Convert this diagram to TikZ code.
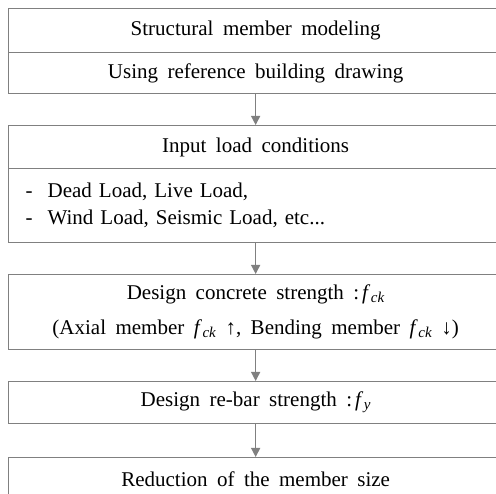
\documentclass[tikz,border=0pt]{standalone}
\usepackage{fontspec}
\setmainfont{Liberation Serif}[WordSpace=1.8]
\usetikzlibrary{arrows.meta}
\definecolor{linegray}{RGB}{128,128,128}
\tikzset{
  box/.style={draw=linegray, line width=1.3pt, minimum width=494pt, anchor=north west,
    inner sep=0pt, font=\fontsize{21}{25}\selectfont, text=black},
  flow/.style={draw=linegray, line width=1.3pt, -{Triangle[width=9pt,length=9pt]}}
}
\newcommand{\fck}{\textit{f}\kern0.5pt\raisebox{-0.3ex}{\fontsize{15}{15}\selectfont\textit{ck}}}
\newcommand{\fy}{\textit{f}\kern0.5pt\raisebox{-0.3ex}{\fontsize{15}{15}\selectfont\textit{y}}}
\begin{document}
\begin{tikzpicture}[x=1pt,y=1pt]
\useasboundingbox (0,0) rectangle (496,-494);
\clip (0,0) rectangle (496,-494);
\node[box, minimum height=44pt] (b1) at (8,-8) {Structural member modeling};
\node[box, minimum height=41pt] (b2) at (8,-52) {Using reference building drawing};
\node[box, minimum height=43pt] (b3) at (8,-125) {Input load conditions};
\node[box, minimum height=74pt, align=left, text width=460pt, inner xsep=17pt,
  font=\fontsize{21}{27}\selectfont] (b4) at (8,-168)
  {\makebox[22pt][l]{-}Dead Load, Live Load,\\\makebox[22pt][l]{-}Wind Load, Seismic Load, etc...};
\node[box, minimum height=75pt, align=center, font=\fontsize{21}{35}\selectfont] (b5) at (8,-274)
  {Design concrete strength :\kern3pt\fck\\(Axial member \fck\ ↑, Bending member \fck\ ↓)};
\node[box, minimum height=42pt] (b6) at (8,-381) {Design re-bar strength :\kern3pt\fy};
\node[box, minimum height=44pt] (b7) at (8,-457) {Reduction of the member size};
\draw[flow] (b2.south) -- (b3.north);
\draw[flow] (b4.south) -- (b5.north);
\draw[flow] (b5.south) -- (b6.north);
\draw[flow] (b6.south) -- (b7.north);
\end{tikzpicture}
\end{document}
